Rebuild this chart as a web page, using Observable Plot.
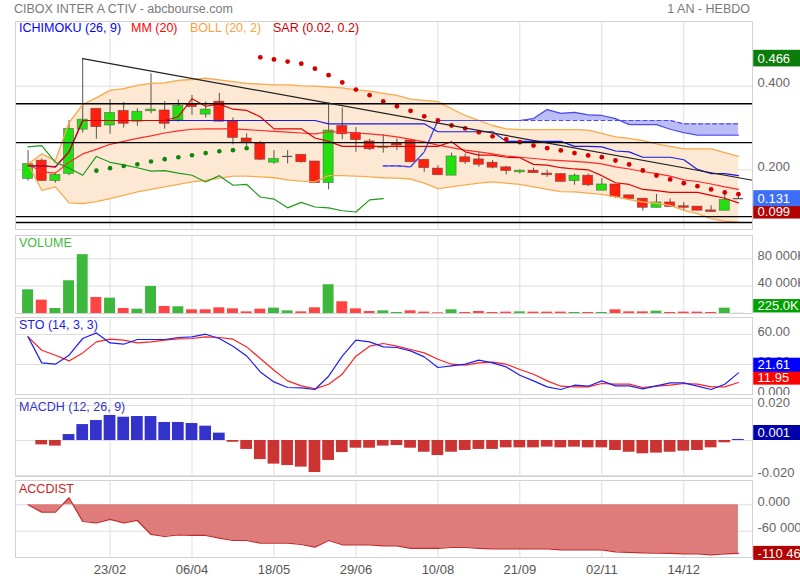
<!DOCTYPE html>
<html><head><meta charset="utf-8">
<script src="https://cdn.jsdelivr.net/npm/d3@7"></script>
<script src="https://cdn.jsdelivr.net/npm/@observablehq/plot@0.6"></script>
<style>
body{margin:0;background:#fff;}
#root{position:relative;width:800px;height:580px;overflow:hidden;font-family:"Liberation Sans",Arial,sans-serif;font-size:12.5px;}
.abs{position:absolute;line-height:16px;white-space:nowrap;}
.panel{position:absolute;left:0;}
</style></head><body><div id="root"></div>
<script>
// ---------- DATA ----------
const weekIndex = d3.range(53);
const tickIdx = [6, 12, 18, 24, 30, 36, 42, 48];
const tickLabels = ["23/02", "06/04", "18/05", "29/06", "10/08", "21/09", "02/11", "14/12"];

const open = [0.178,0.222,0.173,0.190,0.296,0.346,0.306,0.341,0.315,0.340,
 0.342,0.318,0.356,0.332,0.363,0.316,0.275,0.263,0.217,0.232,
 0.236,0.220,0.168,0.305,0.288,0.268,0.252,0.263,0.270,0.224,
 0.203,0.186,0.230,0.225,0.217,0.206,0.194,0.198,0.191,0.190,
 0.173,0.186,0.150,0.165,0.139,0.131,0.109,0.122,0.113,0.112,
 0.103,0.102,0.131];
const high = [0.246,0.226,0.192,0.318,0.466,0.346,0.368,0.361,0.346,0.430,
 0.363,0.367,0.378,0.362,0.383,0.324,0.286,0.268,0.246,0.246,
 0.236,0.220,0.360,0.348,0.301,0.273,0.284,0.274,0.272,0.224,
 0.210,0.240,0.238,0.241,0.222,0.208,0.200,0.204,0.199,0.190,
 0.190,0.190,0.179,0.165,0.139,0.131,0.141,0.130,0.122,0.112,
 0.114,0.141,0.141];
const low = [0.173,0.173,0.168,0.186,0.288,0.273,0.285,0.300,0.304,0.334,
 0.297,0.314,0.330,0.324,0.314,0.260,0.256,0.222,0.213,0.214,
 0.216,0.168,0.152,0.272,0.242,0.246,0.240,0.246,0.218,0.194,
 0.187,0.186,0.213,0.206,0.202,0.188,0.190,0.192,0.182,0.171,
 0.163,0.160,0.150,0.131,0.127,0.101,0.109,0.111,0.101,0.102,
 0.099,0.102,0.129];
const close = [0.214,0.173,0.188,0.298,0.320,0.302,0.336,0.310,0.339,0.344,
 0.310,0.353,0.350,0.344,0.315,0.276,0.266,0.224,0.226,0.232,
 0.218,0.168,0.294,0.285,0.271,0.249,0.255,0.258,0.218,0.204,
 0.187,0.232,0.218,0.212,0.205,0.197,0.198,0.192,0.187,0.171,
 0.186,0.163,0.165,0.135,0.130,0.109,0.122,0.111,0.109,0.102,
 0.099,0.128,0.131];

const bollUpper = [0.214,0.238,0.222,0.313,0.356,0.372,0.390,0.394,0.402,0.407,
 0.408,0.414,0.416,0.419,0.415,0.411,0.407,0.405,0.403,0.403,
 0.401,0.400,0.398,0.396,0.391,0.388,0.383,0.378,0.369,0.366,
 0.363,0.346,0.330,0.318,0.306,0.298,0.296,0.296,0.296,0.296,
 0.296,0.295,0.287,0.279,0.275,0.270,0.262,0.256,0.250,0.250,
 0.250,0.241,0.232];
const bollLower = [0.214,0.151,0.159,0.121,0.119,0.124,0.131,0.139,0.147,0.153,
 0.159,0.165,0.171,0.175,0.180,0.185,0.185,0.183,0.181,0.176,
 0.173,0.171,0.186,0.186,0.185,0.183,0.181,0.180,0.178,0.168,
 0.155,0.159,0.164,0.168,0.171,0.168,0.165,0.159,0.153,0.148,
 0.147,0.144,0.141,0.135,0.129,0.123,0.120,0.115,0.103,0.095,
 0.083,0.077,0.075];
const mm20 = [0.214,0.195,0.192,0.218,0.238,0.249,0.261,0.268,0.275,0.281,
 0.288,0.293,0.297,0.298,0.298,0.298,0.296,0.294,0.292,0.290,
 0.288,0.286,0.291,0.290,0.288,0.286,0.283,0.279,0.273,0.267,
 0.259,0.253,0.247,0.243,0.238,0.233,0.230,0.227,0.224,0.222,
 0.220,0.218,0.214,0.207,0.202,0.196,0.191,0.185,0.176,0.172,
 0.166,0.159,0.153];
const tenkan = [0.210,0.2095,0.207,0.243,0.318,0.318,0.318,0.318,0.318,0.318,
 0.318,0.327,0.370,0.352,0.357,0.345,0.342,0.327,0.298,0.298,
 0.298,0.276,0.268,0.256,0.256,0.256,0.256,0.256,0.256,0.256,
 0.256,0.267,0.243,0.235,0.235,0.230,0.229,0.213,0.211,0.205,
 0.202,0.200,0.186,0.169,0.165,0.153,0.150,0.146,0.146,0.146,
 0.139,0.132,0.121];
const kijun = [0.2095,0.2095,0.207,0.243,0.318,0.318,0.318,0.318,0.318,0.318,
 0.318,0.318,0.318,0.318,0.318,0.318,0.318,0.318,0.318,0.318,
 0.318,0.318,0.310,0.310,0.310,0.310,0.310,0.310,0.310,0.310,
 0.291,0.291,0.291,0.291,0.291,0.268,0.268,0.268,0.268,0.268,
 0.256,0.256,0.255,0.245,0.243,0.230,0.230,0.230,0.224,0.201,
 0.191,0.191,0.186];
const cloudStart = 26;
const senkouA = [0.2095,0.2095,0.207,0.243,0.318,0.318,0.318,0.318,0.318,0.318,
 0.318,0.3225,0.344,0.335,0.3375,0.3315,0.330,0.3225,0.308,0.308,
 0.308,0.297,0.289,0.283,0.283,0.283,0.283];
const senkouB = [0.2095,0.2095,0.207,0.243,0.318,0.318,0.318,0.318,0.318,0.318,
 0.318,0.318,0.318,0.318,0.318,0.318,0.318,0.318,0.318,0.318,
 0.318,0.318,0.310,0.310,0.310,0.310,0.310];
const sarUpStart = 5;
const sarUp = [0.198,0.204,0.209,0.213,0.220,0.2255,0.230,0.235,0.240,0.2445,0.247,0.2517];
const sarDownStart = 17;
const sarDown = [0.469,0.464,0.459,0.454,0.442,0.4265,0.409,0.392,0.3786,0.3635,
 0.352,0.341,0.328,0.318,0.306,0.299,0.290,0.280,0.2726,0.266,
 0.258,0.2518,0.2463,0.240,0.2343,0.2303,0.2223,0.2128,0.1984,0.1864,
 0.1769,0.1681,0.1609,0.153,0.1458,0.1418];
const hLines = [0.358, 0.265, 0.088, 0.074];
const trend = [{i: 4, v: 0.466}, {i: 53.03, v: 0.175}];

const volume = [34600,19500,7300,47800,85900,23400,22400,7300,6300,39500,
 10200,9800,5400,5400,8300,6800,2400,6300,7800,3900,
 2400,8300,42000,17100,6800,2900,3900,1500,3900,2000,
 1000,5400,1500,2900,1500,2000,2400,2000,2000,2000,
 1500,1500,1500,5400,2400,2400,3400,1500,2000,2000,
 1500,7800,225];
const stoK = [57.6,31.6,30.3,39.3,56.0,61.6,51.6,50.3,55.0,55.0,
 55.0,57.0,57.6,60.3,56.0,48.3,38.6,22.6,12.6,7.0,
 6.6,5.0,18.3,38.3,54.3,52.6,47.6,47.0,43.6,37.6,
 27.0,28.6,30.3,34.3,31.6,27.6,19.3,13.6,7.6,5.0,
 9.3,8.3,13.6,8.6,8.6,5.6,8.6,11.6,11.6,8.3,
 5.0,10.3,21.61];
const stoD = [57.6,44.3,39.3,33.6,41.6,52.6,55.3,54.3,51.6,52.6,
 54.3,55.6,56.0,57.6,57.0,55.3,47.6,36.0,24.3,13.6,
 8.6,5.6,10.3,20.3,38.3,48.3,51.0,48.3,45.0,41.6,
 35.3,30.3,29.3,31.6,32.3,30.3,25.0,20.3,13.6,8.3,
 7.6,7.6,11.0,10.3,10.3,7.0,8.3,9.3,11.0,10.3,
 7.6,7.6,11.95];
const macdh = [0,-0.0025,-0.0032,0.0034,0.0091,0.0114,0.0143,0.0133,0.0137,0.0137,
 0.0103,0.0103,0.0097,0.0082,0.0042,-0.0010,-0.0051,-0.0109,-0.0135,-0.0143,
 -0.0152,-0.0183,-0.0114,-0.0069,-0.0044,-0.0044,-0.0032,-0.0029,-0.0044,-0.0067,
 -0.0086,-0.0067,-0.0057,-0.0051,-0.0051,-0.0042,-0.0042,-0.0042,-0.0038,-0.0042,
 -0.0038,-0.0042,-0.0042,-0.0057,-0.0067,-0.0076,-0.0072,-0.0067,-0.0061,-0.0057,
 -0.0042,-0.0013,0.0006];
const accdist = [0,-16700,-16700,15900,-37900,-40900,-33300,-40900,-35600,-67400,
 -72000,-68200,-69700,-69700,-75800,-81100,-81100,-87100,-87100,-87100,
 -90200,-96200,-81100,-90900,-90900,-90900,-93200,-93200,-99200,-99200,
 -99200,-97000,-97000,-99200,-100000,-100000,-100000,-100000,-100000,-102300,
 -102300,-102300,-102300,-106800,-108300,-109100,-109800,-110600,-111400,-111400,
 -113600,-111400,-110462];

// ---------- TABLES ----------
const rows = weekIndex.map(i => ({
  i, o: open[i], h: high[i], l: low[i], c: close[i],
  up: bollUpper[i], lo: bollLower[i], mm: mm20[i], tk: tenkan[i], kj: kijun[i],
  vol: volume[i], volUp: i === 0 || close[i] >= close[i - 1],
  k: stoK[i], d: stoD[i], mh: macdh[i], acc: accdist[i]
}));
const cloud = senkouA.map((a, j) => ({i: cloudStart + j, a, b: senkouB[j]}));
const sarUpRows = sarUp.map((v, j) => ({i: sarUpStart + j, v}));
const sarDownRows = sarDown.map((v, j) => ({i: sarDownStart + j, v}));
const chikou = rows.slice(26).map(r => ({i: r.i - 26, v: r.c}));

// ---------- LAYOUT ----------
const root = document.getElementById("root");
const xDomain = [-0.92, 53.03];
const GRID = "#dedede", FRAME = "#d2d2d2";
const FONT = "Liberation Sans, Arial, sans-serif";
const BOX_X1 = 53.12, BOX_X2 = 56.6, BOX_TX = 53.4;

function boxMarks(specs, d0, d1, h) {
  const k = (d1 - d0) / h;
  return specs.flatMap(s => {
    const c = s.v - (s.dy || 0) * k;
    const hh = (s.hh || 8) * k;
    return [
      Plot.rect([s], {x1: BOX_X1, x2: BOX_X2, y1: c - hh, y2: c + hh, fill: s.color}),
      Plot.text([s], {x: BOX_TX, y: c, text: d => d.label, fill: "white", textAnchor: "start", fontSize: 13})
    ];
  });
}

function panel({top, height, mt = 1, mb = 1, yDomain, marks, xAxis = false}) {
  const svg = Plot.plot({
    width: 800, height,
    marginLeft: 15, marginRight: 48, marginTop: mt, marginBottom: mb,
    x: xAxis ? {type: "linear", domain: xDomain} : {type: "linear", domain: xDomain, axis: null},
    y: {domain: yDomain},
    color: {type: "identity"},
    style: {fontFamily: FONT, fontSize: "13px", color: "#666", background: "white", overflow: "hidden"},
    marks
  });
  const wrap = document.createElement("div");
  wrap.className = "panel";
  wrap.style.top = top + "px";
  wrap.appendChild(svg);
  root.appendChild(wrap);
}
const ih = (height, mt, mb) => height - mt - mb;

// ---------- MAIN PANEL ----------
const mainDom = [0.0572, 0.5548];
const candleW = 0.37;
panel({
  top: 20, height: 210, yDomain: mainDom,
  marks: [
    Plot.ruleY([0.2, 0.4], {stroke: GRID}),
    Plot.ruleX(tickIdx, {stroke: GRID}),
    Plot.areaY(rows, {x: "i", y1: "lo", y2: "up", fill: "#fde8d3"}),
    Plot.areaY(cloud, {x: "i", y1: "b", y2: "a", fill: "#bcbcf7"}),
    Plot.ruleX(rows, {x: "i", y1: "l", y2: "h", stroke: "#555", strokeWidth: 1}),
    Plot.rect(rows.filter(d => Math.abs(d.o - d.c) > 0.0005), {
      x1: d => d.i - candleW, x2: d => d.i + candleW, y1: "o", y2: "c",
      fill: d => d.c >= d.o ? "#22e010" : "#ff2010", stroke: "#444", strokeOpacity: 0.6, strokeWidth: 0.7
    }),
    Plot.ruleY(rows.filter(d => Math.abs(d.o - d.c) <= 0.0005), {
      x1: d => d.i - candleW, x2: d => d.i + candleW, y: "c", stroke: "#555", strokeWidth: 1.2
    }),
    Plot.line(rows, {x: "i", y: "up", stroke: "#f9a94b", strokeWidth: 1.3}),
    Plot.line(rows, {x: "i", y: "lo", stroke: "#f9a94b", strokeWidth: 1.3}),
    Plot.line(rows, {x: "i", y: "mm", stroke: "#ff2a2a", strokeWidth: 1.2}),
    Plot.line(cloud, {x: "i", y: "b", stroke: "#4b4bef", strokeWidth: 1.2, strokeDasharray: "4,3"}),
    Plot.line(cloud, {x: "i", y: "a", stroke: "#4b4bef", strokeWidth: 1.2}),
    Plot.line(rows, {x: "i", y: "kj", stroke: "#1a1ae6", strokeWidth: 1.2}),
    Plot.line(rows, {x: "i", y: "tk", stroke: "#e00000", strokeWidth: 1.2}),
    Plot.line(chikou, {x: "i", y: "v", stroke: "#1e9a1e", strokeWidth: 1.2}),
    Plot.dot(sarUpRows, {x: "i", y: "v", r: 2.3, fill: "#0b870b", stroke: null}),
    Plot.dot(sarDownRows, {x: "i", y: "v", r: 2.4, fill: "#d40000", stroke: null}),
    Plot.ruleY(hLines, {stroke: "#000", strokeWidth: 1.3}),
    Plot.line(trend, {x: "i", y: "v", stroke: "#222", strokeWidth: 1.2}),
    Plot.frame({stroke: FRAME}),
    Plot.axisY({anchor: "right", ticks: [0.2, 0.4], tickFormat: d => d.toFixed(3), tickSize: 0, tickPadding: 5, dy: -3, label: null}),
    ...boxMarks([
      {v: 0.466, label: "0.466", color: "#0a7d0a", hh: 8.3},
      {v: 0.099, label: "0.099", color: "#b30000", hh: 7},
      {v: 0.131, label: "0.131", color: "#3d6ef7", hh: 8}
    ], mainDom[0], mainDom[1], ih(210, 1, 1))
  ]
});

// ---------- VOLUME ----------
const volDom = [0, 113870];
const fmtK = d => d3.format(",")(d).replace(/,/g, " ") + "K";
panel({
  top: 234, height: 80, yDomain: volDom,
  marks: [
    Plot.ruleY([40000, 80000], {stroke: GRID}),
    Plot.ruleX(tickIdx, {stroke: GRID}),
    Plot.rect(rows, {x1: d => d.i - 0.4, x2: d => d.i + 0.4, y1: 0, y2: "vol", fill: d => d.volUp ? "#3db83d" : "#ff4444"}),
    Plot.frame({stroke: FRAME}),
    Plot.axisY({anchor: "right", ticks: [40000, 80000], tickFormat: fmtK, tickSize: 0, tickPadding: 5, dy: -3, label: null}),
    ...boxMarks([{v: 225, label: "225.0K", color: "#00a000", dy: -7.1, hh: 6.7}], volDom[0], volDom[1], ih(80, 1, 1))
  ]
});

// ---------- STO ----------
const stoDom = [0, 77];
panel({
  top: 316, height: 79, yDomain: stoDom,
  marks: [
    Plot.ruleY([30, 60], {stroke: GRID}),
    Plot.ruleX(tickIdx, {stroke: GRID}),
    Plot.line(rows, {x: "i", y: "d", stroke: "#ff2020", strokeWidth: 1.2}),
    Plot.line(rows, {x: "i", y: "k", stroke: "#1f1ff5", strokeWidth: 1.2}),
    Plot.frame({stroke: FRAME}),
    Plot.axisY({anchor: "right", ticks: [0, 30, 60], tickFormat: d => d === 0 ? "0.000" : d.toFixed(2), tickSize: 0, tickPadding: 5, dy: -3, label: null}),
    ...boxMarks([
      {v: 11.95, label: "11.95", color: "#ff0000", dy: -4.4, hh: 7},
      {v: 21.61, label: "21.61", color: "#0000ff", dy: -7.7, hh: 7}
    ], stoDom[0], stoDom[1], ih(79, 1, 1))
  ]
});

// ---------- MACDH ----------
const macDom = [-0.02057, 0.024];
panel({
  top: 397, height: 80, yDomain: macDom,
  marks: [
    Plot.ruleY([-0.02, 0, 0.02], {stroke: GRID}),
    Plot.ruleX(tickIdx, {stroke: GRID}),
    Plot.rect(rows.filter(d => d.mh !== 0), {x1: d => d.i - 0.43, x2: d => d.i + 0.43, y1: 0, y2: "mh", fill: d => d.mh >= 0 ? "#3333cc" : "#cc3333"}),
    Plot.frame({stroke: FRAME}),
    Plot.axisY({anchor: "right", ticks: [-0.02, 0.02], tickFormat: d => d.toFixed(3), tickSize: 0, tickPadding: 5, dy: -3, label: null}),
    ...boxMarks([{v: 0.001, label: "0.001", color: "#0000aa", dy: -5.75, hh: 7.5}], macDom[0], macDom[1], ih(80, 1, 1))
  ]
});

// ---------- ACCDIST ----------
const accDom = [-119773, 55227];
const fmtAcc = d => d === 0 ? "0.000" : d3.format(",")(d).replace(/,/g, " ").replace("\u2212", "-");
panel({
  top: 479, height: 101, mt: 1, mb: 23, yDomain: accDom, xAxis: true,
  marks: [
    Plot.ruleY([-60000, 0], {stroke: GRID}),
    Plot.ruleX(tickIdx, {stroke: GRID}),
    Plot.areaY(rows, {x: "i", y1: 0, y2: "acc", fill: "#de7b7b"}),
    Plot.line(rows, {x: "i", y: "acc", stroke: "#c42a2a", strokeWidth: 1.2}),
    Plot.frame({stroke: FRAME}),
    Plot.axisY({anchor: "right", ticks: [-60000, 0], tickFormat: fmtAcc, tickSize: 0, tickPadding: 5, dy: -3, label: null}),
    Plot.axisX({ticks: tickIdx, tickFormat: i => tickLabels[tickIdx.indexOf(i)], tickSize: 0, tickPadding: 7, label: null, fill: "#555"}),
    ...boxMarks([{v: -110462, label: "-110 462", color: "#b30000", hh: 7}], accDom[0], accDom[1], ih(101, 1, 23))
  ]
});

// ---------- TEXT OVERLAYS ----------
function label(text, left, cy, color, right) {
  const el = document.createElement("div");
  el.className = "abs";
  el.textContent = text;
  el.style.top = (cy - 8) + "px";
  if (right !== undefined) el.style.right = right + "px"; else el.style.left = left + "px";
  el.style.color = color;
  root.appendChild(el);
}
label("CIBOX INTER A CTIV - abcbourse.com", 14, 9, "#7a7a7a");
label("1 AN - HEBDO", null, 9, "#7a7a7a", 50);
label("ICHIMOKU (26, 9)", 19, 27.5, "#0000ff");
label("MM (20)", 131, 27.5, "#ff0000");
label("BOLL (20, 2)", 190, 27.5, "#ffa040");
label("SAR (0.02, 0.2)", 273, 27.5, "#cc0000");
label("VOLUME", 19, 243, "#3cbb3c");
label("STO (14, 3, 3)", 19, 325, "#1c1cee");
label("MACDH (12, 26, 9)", 19, 407, "#3434cc");
label("ACCDIST", 19, 489, "#cc2222");
</script></body></html>
